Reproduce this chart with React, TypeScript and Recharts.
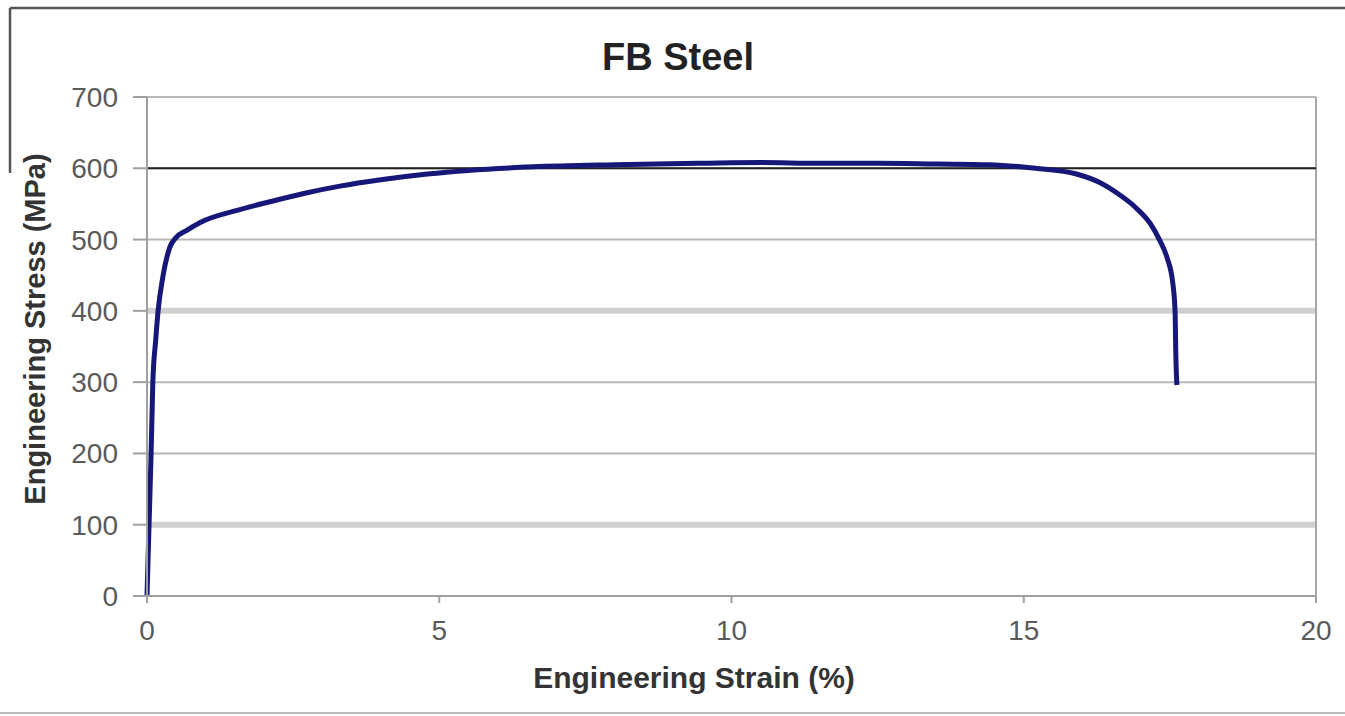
import React from "react";
import { LineChart, Line, XAxis, YAxis, CartesianGrid, ReferenceLine } from "recharts";

const strain = [0, 0.035, 0.07, 0.1, 0.15, 0.19, 0.27, 0.39, 0.5, 0.68, 0.91, 1.54, 2.1, 2.7, 3.3, 4.0, 4.8, 5.5, 6.6, 8.0, 9.5, 10.5, 11.5, 12.5, 13.5, 14.4, 15.2, 15.9, 16.3, 16.6, 16.9, 17.16, 17.32, 17.45, 17.55, 17.59, 17.6, 17.62];
const stress = [0, 100, 200, 300, 360, 400, 447, 489, 503, 513, 524, 541, 553, 565, 575, 584, 592, 597, 602, 605, 607, 608, 607, 607, 606, 605, 600, 592, 580, 565, 546, 523, 500, 475, 439, 397, 345, 296];

const xTicks = [0, 5, 10, 15, 20];
const yTicks = [0, 100, 200, 300, 400, 500, 600, 700];

const title = "FB Steel";
const xLabel = "Engineering Strain (%)";
const yLabel = "Engineering Stress (MPa)";

const data = strain.map((s, i) => ({ strain: s, stress: stress[i] }));

const FONT = "'Liberation Sans', Arial, Helvetica, sans-serif";

export default function App() {
  return (
    <div style={{ position: "fixed", left: 0, top: 0, width: 1345, height: 716, background: "#fff", fontFamily: FONT }}>
      <LineChart width={1345} height={716} data={data} margin={{ top: 97, right: 29, bottom: 0, left: 0 }}>
        <CartesianGrid vertical={false} stroke="#b8b8b8" strokeWidth={2} />
        <ReferenceLine y={400} stroke="#d0d0d0" strokeWidth={6} />
        <ReferenceLine y={100} stroke="#d0d0d0" strokeWidth={6} />
        <ReferenceLine x={20} stroke="#a8a8a8" strokeWidth={2} />
        <ReferenceLine y={600} stroke="#222" strokeWidth={2} />
        <XAxis
          dataKey="strain"
          type="number"
          domain={[0, 20]}
          ticks={xTicks}
          height={120}
          tickSize={7}
          tickMargin={17}
          stroke="#a0a0a0"
          strokeWidth={2}
          tick={{ fontSize: 28, fill: "#5a5a5a", fontFamily: FONT }}
          interval={0}
        />
        <YAxis
          type="number"
          domain={[0, 700]}
          ticks={yTicks}
          width={147}
          tickSize={14}
          tickMargin={15}
          stroke="#a0a0a0"
          strokeWidth={2}
          tick={{ fontSize: 28, fill: "#5a5a5a", fontFamily: FONT }}
          interval={0}
        />
        <Line
          type="monotone"
          dataKey="stress"
          stroke="#17177a"
          strokeWidth={5}
          dot={false}
          isAnimationActive={false}
        />
      </LineChart>
      <svg width={1345} height={716} style={{ position: "absolute", left: 0, top: 0, pointerEvents: "none" }}>
        <line x1={10} y1={8} x2={1345} y2={8} stroke="#555" strokeWidth={2.5} />
        <line x1={10} y1={8} x2={10} y2={173} stroke="#555" strokeWidth={2.5} />
        <line x1={0} y1={713} x2={1345} y2={713} stroke="#bbb" strokeWidth={2} />
        <text x={678} y={70} textAnchor="middle" fontSize={38} fontWeight="bold" fill="#222" fontFamily={FONT}>{title}</text>
        <text x={694} y={688} textAnchor="middle" fontSize={30} fontWeight="bold" fill="#333" fontFamily={FONT}>{xLabel}</text>
        <text transform="translate(45,329) rotate(-90)" textAnchor="middle" fontSize={29} fontWeight="bold" fill="#333" fontFamily={FONT}>{yLabel}</text>
      </svg>
    </div>
  );
}
